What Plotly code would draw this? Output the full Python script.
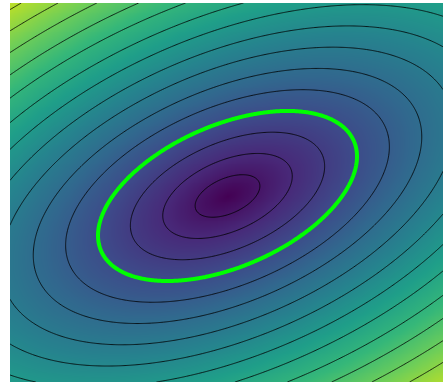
import numpy as np
import plotly.graph_objects as go

# Gaussian parameters
mean = [0.014, -0.055]
cov = [[0.805, 0.28], [0.28, 0.453]]
x_range = [-3.0, 3.0]
y_range = [-3.0, 3.0]
contour_step = 0.5
highlight_level = 2.0
color_max = 8.5

xs = np.linspace(x_range[0], x_range[1], 400)
ys = np.linspace(y_range[0], y_range[1], 400)
X, Y = np.meshgrid(xs, ys)
inv = np.linalg.inv(np.array(cov))
dx = X - mean[0]
dy = Y - mean[1]
Z = np.sqrt(inv[0, 0] * dx**2 + 2 * inv[0, 1] * dx * dy + inv[1, 1] * dy**2)

fig = go.Figure()
fig.add_trace(go.Heatmap(x=xs, y=ys, z=Z, colorscale="Viridis", zmin=0, zmax=color_max,
                         showscale=False, zsmooth="best", hoverinfo="skip"))
fig.add_trace(go.Contour(x=xs, y=ys, z=Z, showscale=False, hoverinfo="skip",
                         contours=dict(coloring="none", start=contour_step, end=12, size=contour_step),
                         line=dict(color="rgba(0,0,0,0.8)", width=1.0, smoothing=1.3)))
fig.add_trace(go.Contour(x=xs, y=ys, z=Z, showscale=False, hoverinfo="skip",
                         contours=dict(coloring="none", start=highlight_level, end=highlight_level, size=1),
                         line=dict(color="#00ff00", width=4, smoothing=1.3)))
fig.update_xaxes(visible=False, range=x_range)
fig.update_yaxes(visible=False, range=y_range)
fig.update_layout(width=444, height=383, margin=dict(l=10, r=1, t=3, b=1),
                  paper_bgcolor="white", plot_bgcolor="white", showlegend=False)
fig.write_html("out.html", config={"displayModeBar": False},
               post_script="document.body.style.margin='0';")
